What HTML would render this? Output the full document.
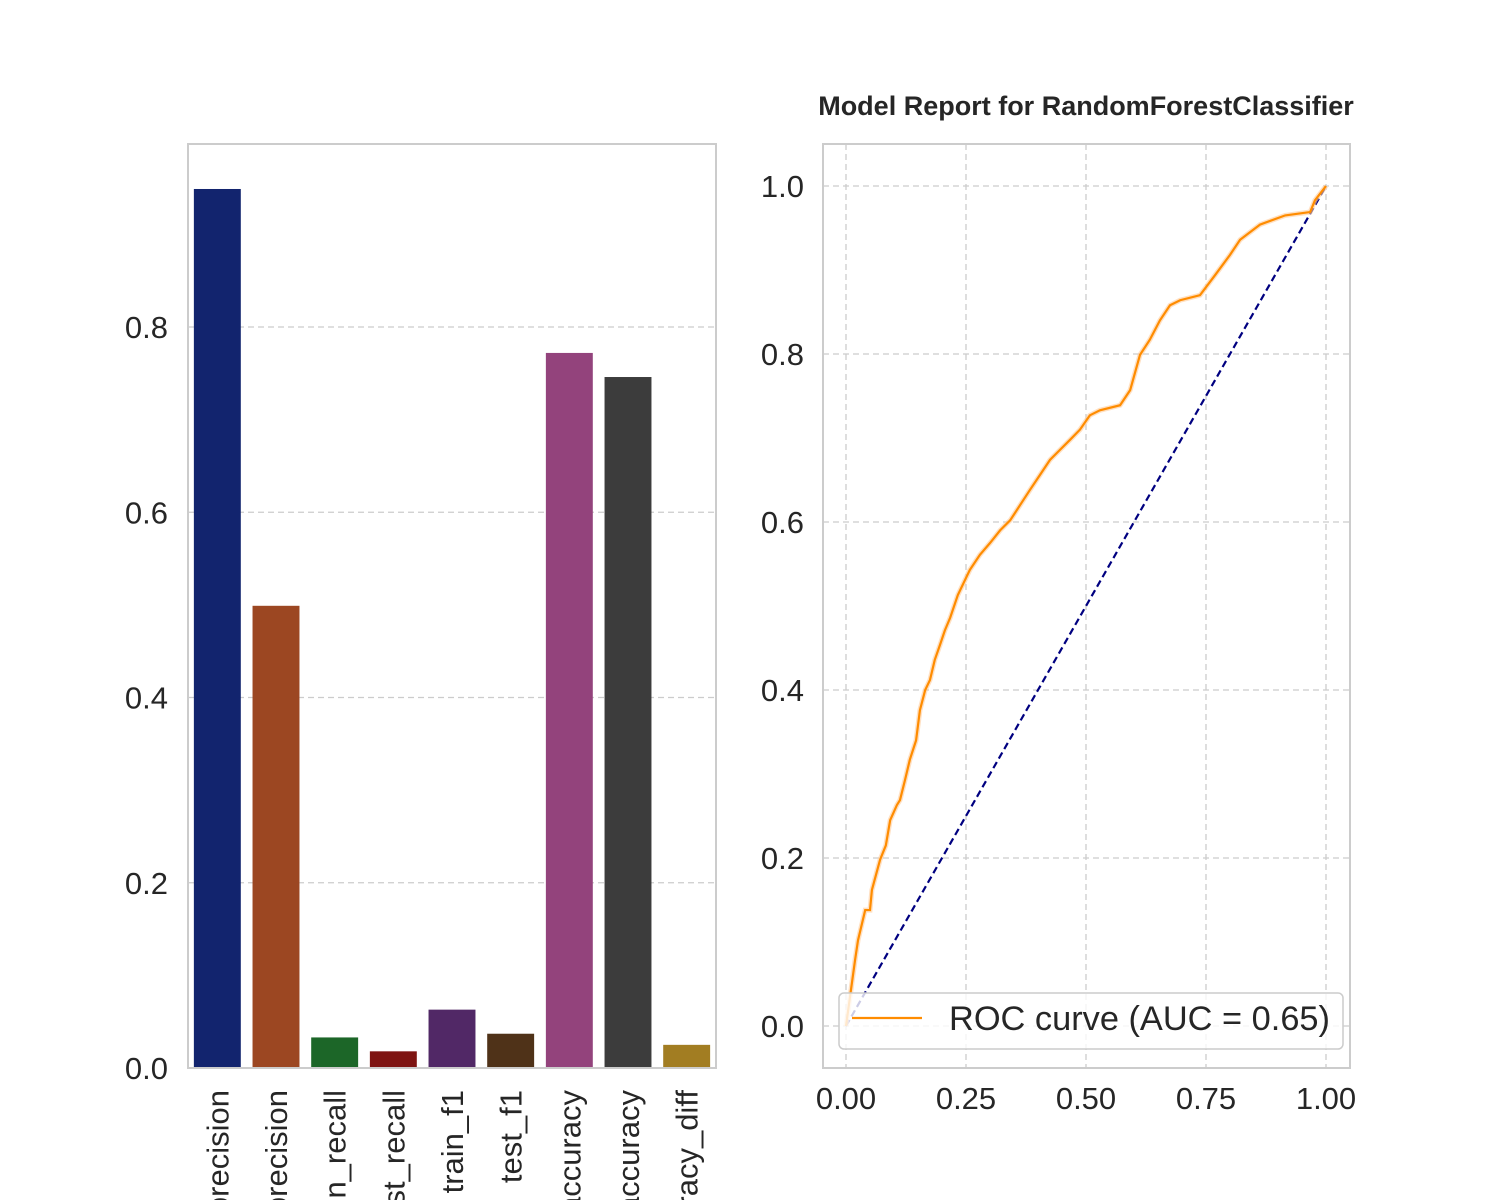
<!DOCTYPE html>
<html><head><meta charset="utf-8"><style>
html,body{margin:0;padding:0;background:#fff;overflow:hidden;width:1500px;height:1200px;}
svg{display:block;}
svg text{font-family:"Liberation Sans",Arial,sans-serif;fill:#262626;}
</style></head><body>
<svg id="fig" width="1500" height="1200" viewBox="0 0 1500 1200">
<defs><clipPath id="pageclip"><rect x="0" y="0" width="1500" height="1200"/></clipPath></defs>
</svg>
<script>
const metricNames = ["train_precision","test_precision","train_recall","test_recall","train_f1","test_f1","train_accuracy","test_accuracy","accuracy_diff"];
const metricValues = [0.949,0.499,0.033,0.018,0.063,0.037,0.772,0.746,0.025];
const barColors = ["#12246e","#9c4722","#1c6628","#7e1412","#512866","#4f3218","#93437c","#3c3c3c","#a27d22"];
const leftTicks = [0.0,0.2,0.4,0.6,0.8];
const rocFpr = [0,0.019,0.025,0.040,0.050,0.054,0.0625,0.071,0.083,0.092,0.106,0.1125,0.123,0.133,0.146,0.154,0.165,0.175,0.185,0.196,0.206,0.217,0.233,0.248,0.258,0.279,0.300,0.321,0.342,0.3625,0.383,0.404,0.425,0.446,0.467,0.4875,0.508,0.529,0.571,0.592,0.6125,0.633,0.654,0.675,0.696,0.7375,0.769,0.800,0.821,0.8625,0.915,0.967,0.977,1];
const rocTpr = [0,0.079,0.102,0.138,0.138,0.162,0.180,0.198,0.215,0.245,0.263,0.269,0.293,0.317,0.340,0.376,0.400,0.412,0.436,0.454,0.471,0.486,0.513,0.531,0.543,0.561,0.575,0.590,0.602,0.620,0.638,0.656,0.674,0.686,0.698,0.710,0.727,0.733,0.739,0.757,0.799,0.817,0.840,0.858,0.864,0.870,0.894,0.918,0.936,0.954,0.965,0.969,0.983,1];
const rocTicks = [0,0.25,0.5,0.75,1.0];
const rocYTicks = [0,0.2,0.4,0.6,0.8,1.0];

const NS="http://www.w3.org/2000/svg";
const svg=document.getElementById('fig');
function mk(tag,attrs,parent){const e=document.createElementNS(NS,tag);for(const k in attrs)e.setAttribute(k,attrs[k]);(parent||svg).appendChild(e);return e;}
const FS=31;

const L={x0:188,x1:716,y0:144,y1:1068};
const ly=v=>1068-v*926.25;
const step=(L.x1-L.x0)/metricNames.length;
const lx=i=>L.x0+step*(i+0.5);
leftTicks.forEach(t=>{
  const g=mk('line',{x1:L.x0,x2:L.x1,y1:ly(t),y2:ly(t),stroke:'#cccccc','stroke-width':1.3,'stroke-dasharray':'6,4'});
  
  
  const tx=mk('text',{x:L.x0-20,y:ly(t)+11,'text-anchor':'end','font-size':FS});
  tx.textContent=t.toFixed(1);
  
  
});
const xlab=mk('g',{'clip-path':'url(#pageclip)'});


metricValues.forEach((v,i)=>{
  const w=step*0.8;
  const r=mk('rect',{x:lx(i)-w/2,y:ly(v),width:w,height:ly(0)-ly(v),fill:barColors[i]});
  
  
  const tx=mk('text',{x:0,y:0,'text-anchor':'end','font-size':FS,transform:`translate(${lx(i)+11},${L.y1+22}) rotate(-90)`},xlab);
  tx.textContent=metricNames[i];
  
  
});
const lf=mk('rect',{x:L.x0,y:L.y0,width:L.x1-L.x0,height:L.y1-L.y0,fill:'none',stroke:'#cccccc','stroke-width':2});



const R={x0:823,x1:1350,y0:144,y1:1068};
const rx=f=>846+480*f;
const ry=t=>1026-840*t;
rocTicks.forEach(t=>{
  const g=mk('line',{x1:rx(t),x2:rx(t),y1:R.y0,y2:R.y1,stroke:'#cccccc','stroke-width':1.3,'stroke-dasharray':'6,4'});
  
  
  const tx=mk('text',{x:rx(t),y:R.y1+41,'text-anchor':'middle','font-size':FS});
  tx.textContent=t.toFixed(2);
  
  
});
rocYTicks.forEach(t=>{
  const g=mk('line',{x1:R.x0,x2:R.x1,y1:ry(t),y2:ry(t),stroke:'#cccccc','stroke-width':1.3,'stroke-dasharray':'6,4'});
  
  
  const tx=mk('text',{x:R.x0-19,y:ry(t)+11,'text-anchor':'end','font-size':FS});
  tx.textContent=t.toFixed(1);
  
  
});
const diag=mk('line',{x1:rx(0),y1:ry(0),x2:rx(1),y2:ry(1),stroke:'#000080','stroke-width':2.2,'stroke-dasharray':'7,4'});


const pts=rocFpr.map((f,i)=>rx(f)+','+ry(rocTpr[i])).join(' ');
const band=mk('polyline',{points:pts,fill:'none',stroke:'#ffcc99','stroke-width':5,opacity:0.6});


const roc=mk('polyline',{points:pts,fill:'none',stroke:'#ff8c00','stroke-width':2.2});


const rf=mk('rect',{x:R.x0,y:R.y0,width:R.x1-R.x0,height:R.y1-R.y0,fill:'none',stroke:'#cccccc','stroke-width':2});



const lg=mk('g',{});


mk('rect',{x:839,y:993,width:504,height:56,rx:5,fill:'#ffffff','fill-opacity':0.8,stroke:'#cccccc','stroke-width':1.5},lg);
const ll=mk('line',{x1:852,x2:922,y1:1018,y2:1018,stroke:'#ff8c00','stroke-width':2.2},lg);


const lt=mk('text',{x:949,y:1030,'font-size':34,textLength:381,lengthAdjust:'spacingAndGlyphs'},lg);
lt.textContent='ROC curve (AUC = 0.65)';



const title=mk('text',{x:1086,y:115,'text-anchor':'middle','font-size':27,'font-weight':'bold'});
title.textContent='Model Report for RandomForestClassifier';


</script>
</body></html>
